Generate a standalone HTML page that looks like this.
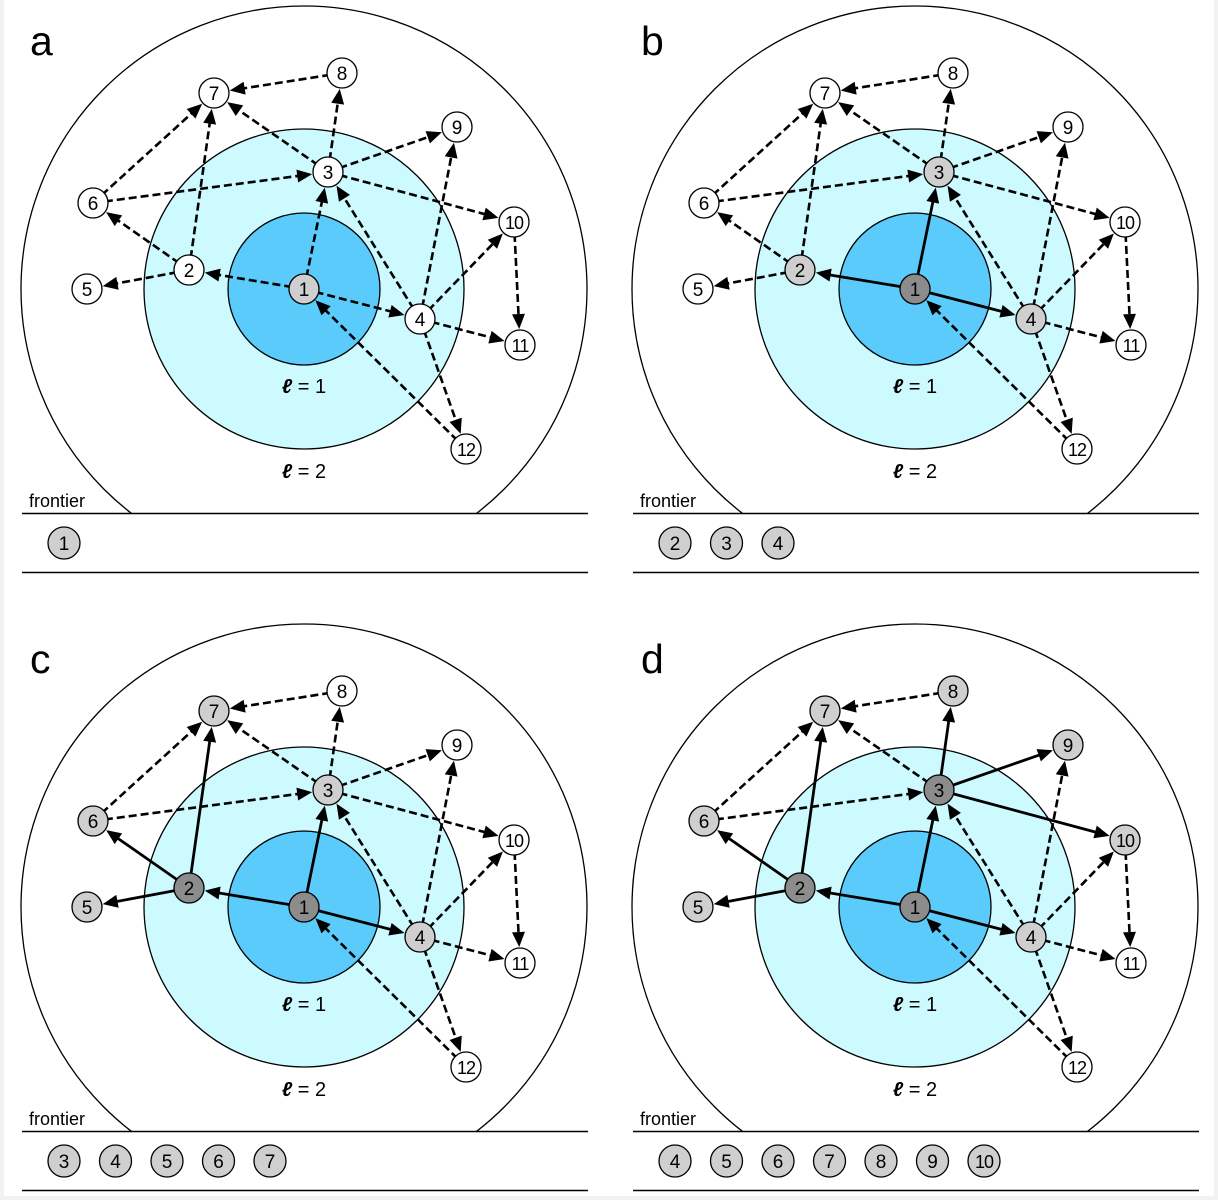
<!DOCTYPE html>
<html><head><meta charset="utf-8"><style>
html,body{margin:0;padding:0;background:#f2f2f2;}
#wrap{position:absolute;left:4px;top:0;width:1210px;height:1196px;background:#fff;}
svg{position:absolute;left:-4px;top:0;}
text{font-family:"Liberation Sans",sans-serif;}
</style></head><body>
<div id="wrap"></div>
<script>
const nodeIds=[1,2,3,4,5,6,7,8,9,10,11,12];
const nodeX=[304,189,328,420,87,93,214,342,457,514,520,466];
const nodeY=[289,270,172,319,289,203,93,73,127,222,345,449];
const edges=[[1,2],[1,3],[1,4],[12,1],[2,5],[2,6],[2,7],[3,7],[3,9],[3,10],[6,3],[6,7],[8,7],[3,8],[4,3],[4,9],[4,10],[4,11],[4,12],[10,11]];
const panelLetters=['a','b','c','d'];
const panelDX=[0,611,0,611];
const panelDY=[0,0,618,618];
const panelSolid=[[],[[1,2],[1,3],[1,4]],[[1,2],[1,3],[1,4],[2,5],[2,6],[2,7]],[[1,2],[1,3],[1,4],[2,5],[2,6],[2,7],[3,8],[3,9],[3,10]]];
const panelDark=[[],[1],[1,2],[1,2,3]];
const panelLight=[[1],[2,3,4],[3,4,5,6,7],[4,5,6,7,8,9,10]];
const panelFrontier=[[1],[2,3,4],[3,4,5,6,7],[4,5,6,7,8,9,10]];
const NS='http://www.w3.org/2000/svg';
const svg=document.createElementNS(NS,'svg');
svg.setAttribute('width','1218');svg.setAttribute('height','1200');


document.getElementById('wrap').appendChild(svg);
function mk(tag,attrs,parent){const e=document.createElementNS(NS,tag);for(const k in attrs)e.setAttribute(k,attrs[k]);(parent||svg).appendChild(e);return e;}
const R=15;
panelLetters.forEach((L,p)=>{
  const dx=panelDX[p],dy=panelDY[p];
  const g=mk('g',{transform:`translate(${dx},${dy})`});
  
  
  const cp=mk('clipPath',{id:'cp'+p},g);mk('rect',{x:0,y:0,width:600,height:513},cp);
  const oc=mk('circle',{cx:304,cy:289,r:283,fill:'#fff',stroke:'#000','stroke-width':1.3,'clip-path':`url(#cp${p})`},g);
  
  
  const mc=mk('circle',{cx:304,cy:289,r:160,fill:'#ccfafe',stroke:'#000','stroke-width':1.3},g);
  
  
  const ic=mk('circle',{cx:304,cy:289,r:76,fill:'#5acbfa',stroke:'#000','stroke-width':1.3},g);
  
  
  const t1=mk('text',{x:304,y:393,'font-size':20,'text-anchor':'middle'},g);t1.innerHTML='<tspan font-style="italic" font-weight="600">ℓ</tspan> = 1';
  
  
  const t2=mk('text',{x:304,y:478,'font-size':20,'text-anchor':'middle'},g);t2.innerHTML='<tspan font-style="italic" font-weight="600">ℓ</tspan> = 2';
  
  
  const lt=mk('text',{x:30,y:55,'font-size':41},g);lt.textContent=L;
  
  
  const solid=panelSolid[p];
  edges.forEach(([a,b])=>{
    const isS=solid.some(s=>s[0]===a&&s[1]===b);
    const x1=nodeX[a-1],y1=nodeY[a-1],x2=nodeX[b-1],y2=nodeY[b-1];
    const d=Math.hypot(x2-x1,y2-y1),ux=(x2-x1)/d,uy=(y2-y1)/d;
    const tx=x2-ux*(R+1),ty=y2-uy*(R+1);
    const hl=15,hw=6.5;
    const bx=tx-ux*hl,by=ty-uy*hl;
    const eg=mk('g',{},g);
    
    
    mk('line',{x1:x1,y1:y1,x2:bx+ux*2,y2:by+uy*2,stroke:'#000','stroke-width':isS?2.8:2.6,'stroke-dasharray':isS?'none':'8 4'},eg);
    mk('polygon',{points:`${tx},${ty} ${bx-uy*hw},${by+ux*hw} ${bx+uy*hw},${by-ux*hw}`,fill:'#000'},eg);
  });
  nodeIds.forEach((id,i)=>{
    const fill=panelDark[p].includes(id)?'#8c8c8c':(panelLight[p].includes(id)?'#cfcfcf':'#fff');
    const ng=mk('g',{},g);
    
    
    mk('circle',{cx:nodeX[i],cy:nodeY[i],r:R,fill:fill,stroke:'#000','stroke-width':1.3},ng);
    const t=mk('text',{x:nodeX[i],y:nodeY[i]+7,'font-size':id>9?18:19,'text-anchor':'middle','letter-spacing':id>9?'-1':'0'},ng);t.textContent=id;
  });
  const ft=mk('text',{x:29,y:507,'font-size':18},g);ft.textContent='frontier';
  
  
  mk('line',{x1:22,y1:513.5,x2:588,y2:513.5,stroke:'#000','stroke-width':1.5},g);
  mk('line',{x1:22,y1:572.5,x2:588,y2:572.5,stroke:'#000','stroke-width':1.5},g);
  panelFrontier[p].forEach((id,k)=>{
    const fg=mk('g',{},g);
    
    
    const cx=64+k*51.5;
    mk('circle',{cx:cx,cy:543,r:16,fill:'#cfcfcf',stroke:'#000','stroke-width':1.3},fg);
    const t=mk('text',{x:cx,y:550,'font-size':id>9?18:19,'text-anchor':'middle','letter-spacing':id>9?'-1':'0'},fg);t.textContent=id;
  });
});
</script>
</body></html>
